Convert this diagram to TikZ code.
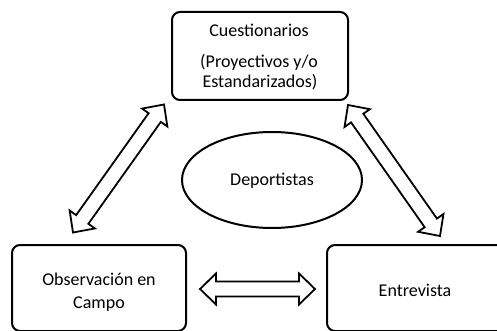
\documentclass[tikz,border=0pt]{standalone}
\usepackage{fontspec}
\setmainfont{Carlito}
\usetikzlibrary{calc,shapes.geometric}
\tikzset{
  box/.style={draw, line width=2pt, rounded corners=8pt, inner sep=0pt},
  oval/.style={draw, ellipse, line width=2pt, inner sep=0pt},
  lbl/.style={font=\fontsize{18}{22}\selectfont, inner sep=0pt, anchor=base},
  blockarrow/.style={draw, line width=1.8pt, line join=miter, fill=white},
  pics/dblarrow/.style={code={
     \draw[blockarrow] (0pt,0pt) -- (16pt,15.5pt) -- (16pt,7.5pt) -- ({#1-16pt},7.5pt)
       -- ({#1-16pt},15.5pt) -- (#1,0pt) -- ({#1-16pt},-15.5pt) -- ({#1-16pt},-7.5pt)
       -- (16pt,-7.5pt) -- (16pt,-15.5pt) -- cycle;
  }}
}
\begin{document}
\begin{tikzpicture}[x=1pt,y=1pt]
\useasboundingbox (0,0) rectangle (497,-331);
\clip (0,0) rectangle (497,-331);
\fill[white] (0,0) rectangle (497,-331);
% boxes
\node[box, minimum width=176pt, minimum height=88pt] (cuest) at (260,-56) {};
\node[box, minimum width=174pt, minimum height=86pt] (obs) at (99,-288) {};
\node[box, minimum width=183pt, minimum height=86pt] (entr) at (418.5,-288) {};
\node[oval, minimum width=180pt, minimum height=96pt] (dep) at (272,-180) {};
% texts
\node[lbl] (t1) at (259,-37) {Cuestionarios};
\node[lbl] (t2) at (259,-68) {(Proyectivos y/o};
\node[lbl] (t3) at (260,-88) {Estandarizados)};
\node[lbl] (t4) at (272,-185) {Deportistas};
\node[lbl] (t5) at (99,-285) {Observación en};
\node[lbl] (t6) at (99,-308.3) {Campo};
\node[lbl] (t7) at (415,-296) {Entrevista};
% arrow ends
\coordinate (l1) at (73,-232.5);  \coordinate (l2) at (164,-104.5);
\coordinate (r1) at (348,-105);   \coordinate (r2) at (440,-236);
\coordinate (h1) at (200,-289);   \coordinate (h2) at (315,-289);
\path let \p1=($(l2)-(l1)$), \n1={atan2(\y1,\x1)}, \n2={veclen(\x1,\y1)} in
  pic[rotate=\n1] at (l1) {dblarrow=\n2};
\path let \p1=($(r2)-(r1)$), \n1={atan2(\y1,\x1)}, \n2={veclen(\x1,\y1)} in
  pic[rotate=\n1] at (r1) {dblarrow=\n2};
\path let \p1=($(h2)-(h1)$), \n1={atan2(\y1,\x1)}, \n2={veclen(\x1,\y1)} in
  pic[rotate=\n1] at (h1) {dblarrow=\n2};
\end{tikzpicture}
\end{document}
